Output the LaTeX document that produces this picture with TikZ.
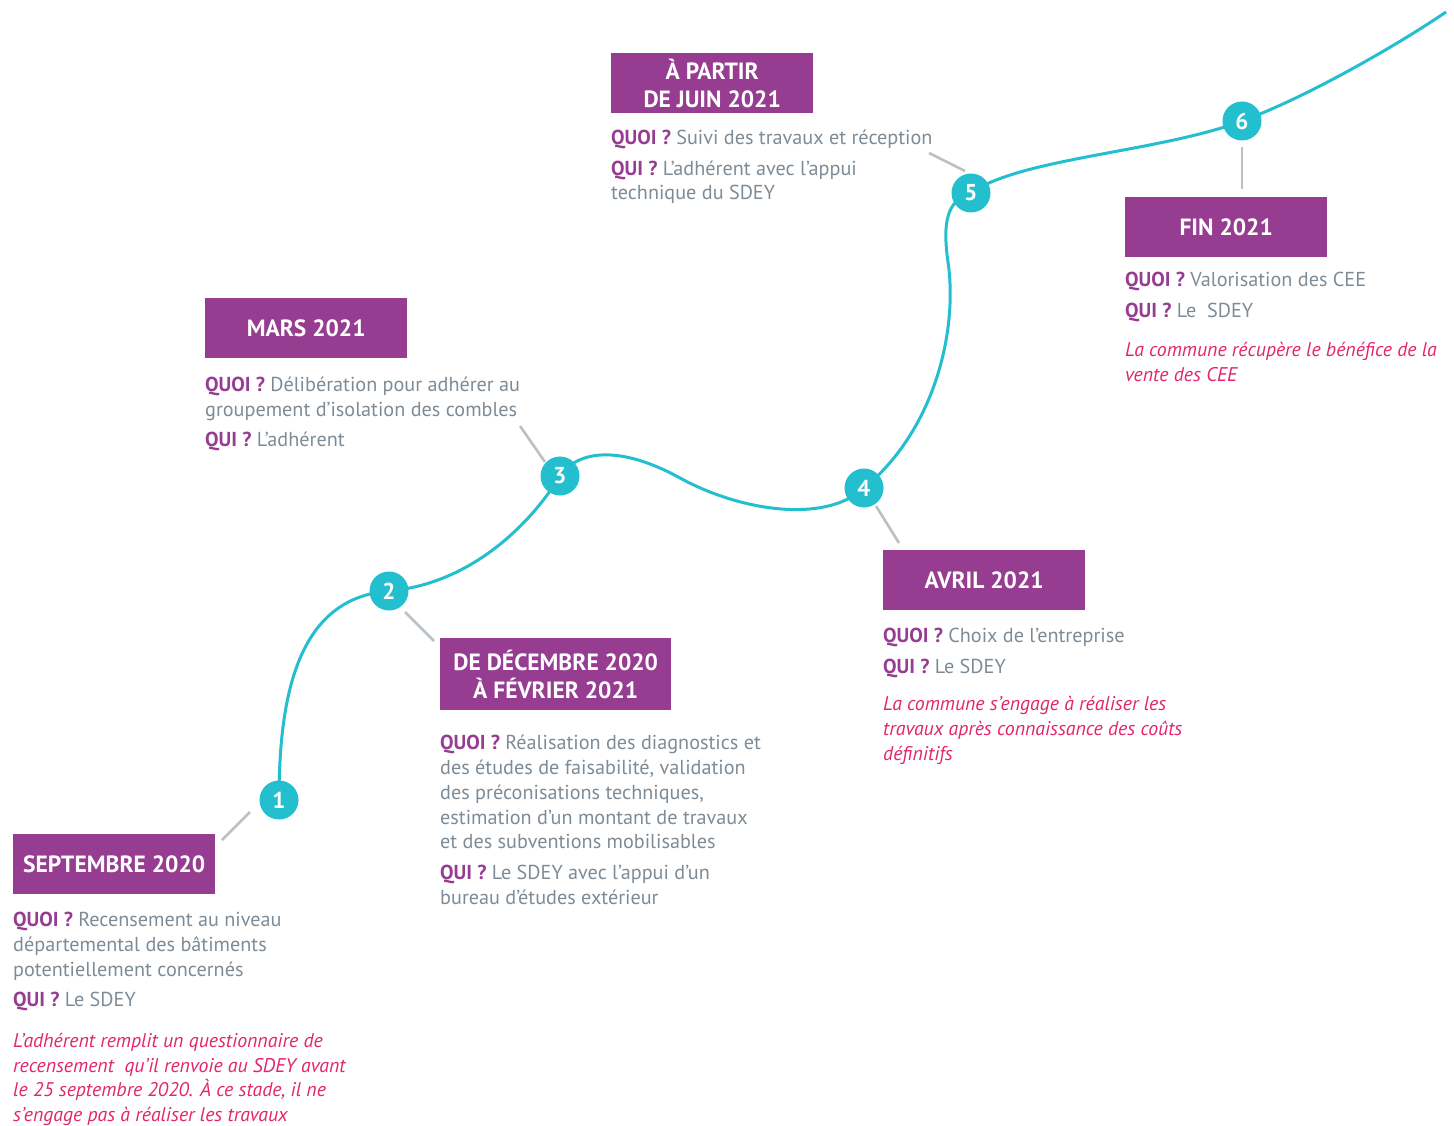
\documentclass[tikz,border=0pt]{standalone}
\usepackage{fontspec}
\setmainfont{PT Sans}
\definecolor{purp}{HTML}{963C91}
\definecolor{tealc}{HTML}{23BFCE}
\definecolor{graytxt}{HTML}{7D8B96}
\definecolor{pinkc}{HTML}{E2256C}
\definecolor{linegray}{HTML}{BAC1C6}
\newcommand\qlabel[1]{{\color{purp}\bfseries #1}}
\newcommand\notetxt[1]{{\color{pinkc}\itshape\fontsize{19.8}{24.7}\selectfont #1}}
\begin{document}
\begin{tikzpicture}[x=1pt,y=-1pt,
  datebox/.style={fill=purp, text=white, font=\fontsize{23.5}{28}\selectfont\bfseries, align=center, inner sep=0pt, anchor=north west},
  dot/.style={circle, fill=tealc, text=white, font=\fontsize{23}{23}\selectfont\bfseries, minimum size=39pt, inner sep=0pt},
  info/.style={anchor=north west, inner sep=0pt, align=left, text=graytxt, font=\fontsize{20.2}{24.7}\selectfont},
  conn/.style={draw=linegray, line width=2.6pt},
  route/.style={draw=tealc, line width=3pt}]
\useasboundingbox (0,0) rectangle (1454,1126);

% curve
\draw[route] (279,800) .. controls (279,690) and (300,598) .. (389,591)
  .. controls (470,584) and (530,525) .. (560,476)
  .. controls (578,450) and (620,445) .. (680,478)
  .. controls (740,511) and (825,524) .. (864,488)
  .. controls (935,430) and (958,330) .. (948,262)
  .. controls (942,220) and (948,200) .. (971,193)
  .. controls (1020,158) and (1160,152) .. (1242,121)
  .. controls (1300,100) and (1390,50) .. (1446,12);

% step dots
\node[dot] (c1) at (279,800) {1};
\node[dot] (c2) at (389,591) {2};
\node[dot] (c3) at (560,476) {3};
\node[dot] (c4) at (864,488) {4};
\node[dot] (c5) at (971,193) {5};
\node[dot] (c6) at (1242,121) {6};

% date boxes
\node[datebox, minimum width=202pt, minimum height=60pt] (b1) at (13,834) {SEPTEMBRE 2020};
\node[datebox, minimum width=231pt, minimum height=72pt] (b2) at (440,638) {DE DÉCEMBRE 2020\\À FÉVRIER 2021};
\node[datebox, minimum width=202pt, minimum height=60pt] (b3) at (205,298) {MARS 2021};
\node[datebox, minimum width=202pt, minimum height=60pt] (b4) at (883,550) {AVRIL 2021};
\node[datebox, minimum width=202pt, minimum height=60pt] (b5) at (611,53) {À PARTIR\\DE JUIN 2021};
\node[datebox, minimum width=202pt, minimum height=60pt] (b6) at (1125,197) {FIN 2021};

% texts
\node[info] (t1) at (13,909.5) {\strut\qlabel{QUOI ?} Recensement au niveau\\
départemental des bâtiments\\
potentiellement concernés\\[5.5pt]
\qlabel{QUI ?} Le SDEY\\[16pt]
\notetxt{L’adhérent remplit un questionnaire de}\\
\notetxt{recensement\ \ qu’il renvoie au SDEY avant}\\
\notetxt{le 25 septembre 2020. À ce stade, il ne}\\
\notetxt{s’engage pas à réaliser les travaux}};

\node[info] (t2) at (440,732.5) {\strut\qlabel{QUOI ?} Réalisation des diagnostics et\\
des études de faisabilité, validation\\
des préconisations techniques,\\
estimation d’un montant de travaux\\
et des subventions mobilisables\\[6pt]
\qlabel{QUI ?} Le SDEY avec l’appui d’un\\
bureau d’études extérieur};

\node[info] (t3) at (205,374.5) {\strut\qlabel{QUOI ?} Délibération pour adhérer au\\
groupement d’isolation des combles\\[5.5pt]
\qlabel{QUI ?} L’adhérent};

\node[info] (t4) at (883,625.5) {\strut\qlabel{QUOI ?} Choix de l’entreprise\\[5.5pt]
\qlabel{QUI ?} Le SDEY\\[13pt]
\notetxt{La commune s’engage à réaliser les}\\
\notetxt{travaux après connaissance des coûts}\\
\notetxt{définitifs}};

\node[info] (t5) at (611,127.5) {\strut\qlabel{QUOI ?} Suivi des travaux et réception\\[5.5pt]
\qlabel{QUI ?} L’adhérent avec l’appui\\
technique du SDEY};

\node[info] (t6) at (1125,269.5) {\strut\qlabel{QUOI ?} Valorisation des CEE\\[6pt]
\qlabel{QUI ?} Le\ \ SDEY\\[14pt]
\notetxt{La commune récupère le bénéfice de la}\\
\notetxt{vente des CEE}};

% connectors
\coordinate (l1a) at (250,812); \coordinate (l1b) at (222,840);
\coordinate (l2a) at (405,612); \coordinate (l2b) at (434,641);
\coordinate (l3a) at (545,462); \coordinate (l3b) at (520,426);
\coordinate (l4a) at (876,506); \coordinate (l4b) at (899,543);
\coordinate (l5a) at (965,171); \coordinate (l5b) at (929,153);
\coordinate (l6a) at (1242,147); \coordinate (l6b) at (1242,189);
\draw[conn] (l1a) -- (l1b);
\draw[conn] (l2a) -- (l2b);
\draw[conn] (l3a) -- (l3b);
\draw[conn] (l4a) -- (l4b);
\draw[conn] (l5a) -- (l5b);
\draw[conn] (l6a) -- (l6b);
\end{tikzpicture}
\end{document}
